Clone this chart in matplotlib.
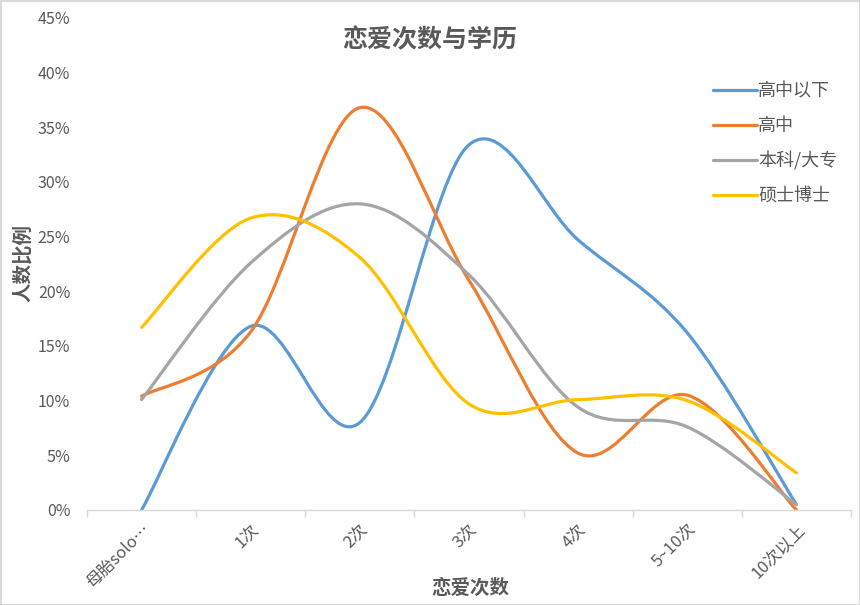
import numpy as np
import matplotlib
matplotlib.use("Agg")
import matplotlib.pyplot as plt
from matplotlib.path import Path
from matplotlib.patches import PathPatch, Rectangle
from matplotlib.lines import Line2D
from matplotlib.ticker import PercentFormatter, FixedLocator

plt.rcParams['font.family'] = ['Noto Sans CJK SC', 'DejaVu Sans']

categories = ['母胎solo…', '1次', '2次', '3次', '4次', '5~10次', '10次以上']
series_names = ['高中以下', '高中', '本科/大专', '硕士博士']
below_hs = [0.0, 16.8, 8.0, 33.4, 24.7, 16.2, 0.5]
high_school = [10.4, 16.3, 36.8, 21.0, 5.2, 10.5, 0.0]
college = [10.1, 22.6, 28.0, 21.5, 9.4, 7.6, 0.5]
graduate = [16.7, 26.7, 23.1, 9.7, 10.1, 10.0, 3.4]
colors = ['#5B9BD5', '#ED7D31', '#A5A5A5', '#FFC000']
text_color = '#595959'


def smooth_path(xs, ys):
    # Excel-like smoothed line: cubic Bezier, control points from neighbours (Catmull-Rom)
    pts = np.column_stack([xs, ys]).astype(float)
    n = len(pts)
    verts = [pts[0]]
    codes = [Path.MOVETO]
    for i in range(n - 1):
        p_prev = pts[i - 1] if i > 0 else pts[i]
        p_next = pts[i + 2] if i + 2 < n else pts[i + 1]
        c1 = pts[i] + (pts[i + 1] - p_prev) / 6
        c2 = pts[i + 1] - (p_next - pts[i]) / 6
        verts += [c1, c2, pts[i + 1]]
        codes += [Path.CURVE4] * 3
    return Path(verts, codes)


fig = plt.figure(figsize=(8.6, 6.05), dpi=100)
ax = fig.add_axes([87 / 860, 95 / 605, 764 / 860, 492 / 605])

x = np.arange(len(categories))
handles = []
for name, vals, c in zip(series_names, [below_hs, high_school, college, graduate], colors):
    y = np.array(vals) / 100
    ax.add_patch(PathPatch(smooth_path(x, y), facecolor='none', edgecolor=c,
                           lw=2.3, capstyle='round', joinstyle='round'))
    handles.append(Line2D([], [], color=c, lw=2.3, solid_capstyle='round', label=name))

ax.set_xlim(-0.5, len(categories) - 0.5)
ax.set_ylim(0, 0.45)
ax.set_yticks(np.arange(0, 0.451, 0.05))
ax.yaxis.set_major_formatter(PercentFormatter(1.0, decimals=0))
ax.set_xticks(x)
ax.set_xticklabels(categories, rotation=45, ha='right', va='top', rotation_mode='anchor')
ax.xaxis.set_minor_locator(FixedLocator(np.arange(-0.5, len(categories), 1.0)))
ax.tick_params(axis='x', which='major', length=0, pad=8, labelsize=12, labelcolor=text_color)
ax.tick_params(axis='x', which='minor', length=5, color='#D9D9D9', width=1)
ax.tick_params(axis='y', length=0, pad=12, labelsize=11.5, labelcolor=text_color)
for s in ['top', 'right', 'left']:
    ax.spines[s].set_visible(False)
ax.spines['bottom'].set_color('#D9D9D9')
ax.spines['bottom'].set_linewidth(1)

fig.text(430 / 860, 1 - 40 / 605, '恋爱次数与学历', ha='center', va='center',
         fontsize=18, fontweight='bold', color=text_color)
fig.text(23 / 860, 1 - 263 / 605, '人数比例', ha='center', va='center', rotation=90,
         fontsize=14, fontweight='bold', color=text_color)
fig.text(470 / 860, 1 - 588 / 605, '恋爱次数', ha='center', va='center',
         fontsize=14, fontweight='bold', color=text_color)

leg = ax.legend(handles=handles, loc='upper left', bbox_to_anchor=(697 / 860, 1 - 66 / 605),
                bbox_transform=fig.transFigure, frameon=False, fontsize=13,
                handlelength=2.4, handletextpad=0.1, labelspacing=0.92)
for t in leg.get_texts():
    t.set_color(text_color)

fig.patches.append(Rectangle((0.5 / 860, 0.5 / 605), 1 - 1 / 860, 1 - 1 / 605,
                             transform=fig.transFigure, fill=False,
                             edgecolor='#D9D9D9', lw=1.5))

fig.savefig('out.png', dpi=100)
